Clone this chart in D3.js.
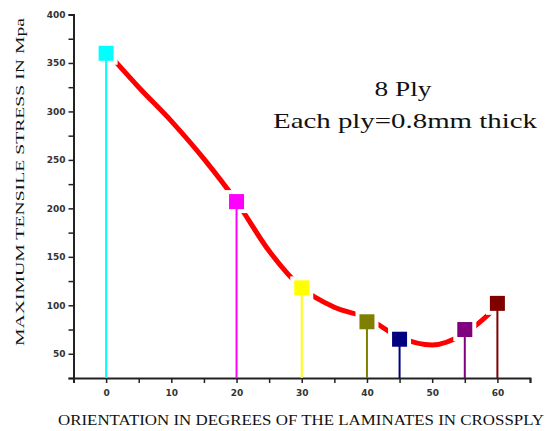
<!DOCTYPE html>
<html>
<head>
<meta charset="utf-8">
<script src="https://cdn.jsdelivr.net/npm/d3@7"></script>
<style>
  body { margin: 0; background: #fff; }
  .tick text { font-family: "DejaVu Sans", sans-serif; font-size: 9px; font-weight: bold; fill: #333; }
</style>
</head>
<body>
<div id="chart"></div>
<script>
// measured points (angle, stress)
var angles = [0, 20, 30, 40, 45, 55, 60]
var stress = [360, 207, 118, 83, 65, 75, 102]
var markerColors = ['#00ffff', '#ff00ff', '#ffff00', '#808000', '#000080', '#800080', '#800000']

// fitted red curve
var curveAngles = [1.5, 5, 10, 15, 20, 25, 30, 35, 40, 45, 50, 55, 60]
var curveStress = [351, 325, 290, 251, 207, 156, 118, 98, 87, 67, 59, 71, 99]

var xTicks = [0, 10, 20, 30, 40, 50, 60]
var yTicks = [50, 100, 150, 200, 250, 300, 350, 400]

var width = 545, height = 431

var svg = d3.select('#chart').append('svg')
  .attr('width', width)
  .attr('height', height)

var x = d3.scaleLinear().domain([-5, 65]).range([73.5, 530])
var y = d3.scaleLinear().domain([25, 400]).range([378, 14.5])

// axes
var xAxis = svg.append('g')
  .attr('transform', 'translate(0,' + y(25) + ')')
  .call(d3.axisBottom(x).tickValues(d3.range(-5, 66, 5)).tickSize(5).tickFormat(function(d) {
    return xTicks.indexOf(d) >= 0 ? d : ''
  }))
xAxis.select('.domain').attr('stroke', '#222').attr('stroke-width', 2)
xAxis.selectAll('.tick line').attr('stroke', '#222').attr('stroke-width', 1.5)
xAxis.selectAll('.tick text').attr('dy', '1.1em')

var yAxis = svg.append('g')
  .attr('transform', 'translate(' + x(-5) + ',0)')
  .call(d3.axisLeft(y).tickValues(d3.range(25, 401, 25)).tickSize(5).tickFormat(function(d) {
    return yTicks.indexOf(d) >= 0 ? d : ''
  }))
yAxis.select('.domain').attr('stroke', '#222').attr('stroke-width', 2)
yAxis.selectAll('.tick line').attr('stroke', '#222').attr('stroke-width', 1.5)
yAxis.selectAll('.tick text').attr('x', -8)

// red fitted curve
var line = d3.line()
  .x(function(d, i) { return x(curveAngles[i]) })
  .y(function(d, i) { return y(curveStress[i]) })
  .curve(d3.curveMonotoneX)

svg.append('path')
  .attr('d', line(curveAngles))
  .attr('fill', 'none')
  .attr('stroke', '#ff0000')
  .attr('stroke-width', 5)
  .attr('stroke-linecap', 'round')

// white halo round markers
var sq = 15
svg.selectAll('rect.halo').data(angles).enter().append('rect')
  .attr('class', 'halo')
  .attr('x', function(d) { return x(d) - sq / 2 - 4 })
  .attr('y', function(d, i) { return y(stress[i]) - sq / 2 - 4 })
  .attr('width', sq + 8)
  .attr('height', sq + 8)
  .attr('fill', '#fff')

// drop lines
svg.selectAll('line.stem').data(angles).enter().append('line')
  .attr('class', 'stem')
  .attr('x1', function(d) { return x(d) })
  .attr('x2', function(d) { return x(d) })
  .attr('y1', function(d, i) { return y(stress[i]) })
  .attr('y2', y(25))
  .attr('stroke', function(d, i) { return markerColors[i] })
  .attr('stroke-width', 2)

svg.selectAll('rect.mark').data(angles).enter().append('rect')
  .attr('class', 'mark')
  .attr('x', function(d) { return x(d) - sq / 2 })
  .attr('y', function(d, i) { return y(stress[i]) - sq / 2 })
  .attr('width', sq)
  .attr('height', sq)
  .attr('fill', function(d, i) { return markerColors[i] })

// labels
function label(txt, size, len) {
  return svg.append('text')
    .attr('text-anchor', 'middle')
    .attr('font-family', '"Liberation Serif", serif')
    .attr('font-size', size)
    .attr('fill', '#111')
    .attr('textLength', len)
    .attr('lengthAdjust', 'spacingAndGlyphs')
    .text(txt)
}

label('MAXIMUM TENSILE STRESS IN Mpa', 13, 328)
  .attr('transform', 'translate(24,182) rotate(-90)')

label('ORIENTATION IN DEGREES OF THE LAMINATES IN CROSSPLY', 14, 486)
  .attr('x', 301)
  .attr('y', 425)

label('8 Ply', 22, 57)
  .attr('x', 403)
  .attr('y', 96)

label('Each ply=0.8mm thick', 22, 264)
  .attr('x', 405)
  .attr('y', 128)
</script>
</body>
</html>
